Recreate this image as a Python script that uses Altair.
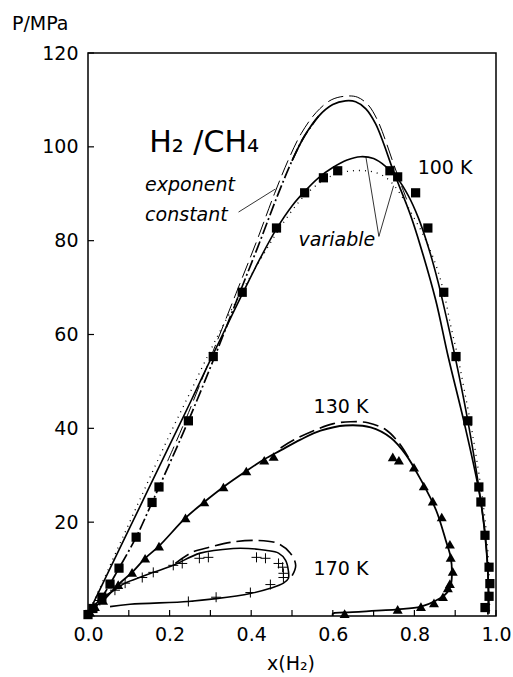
import altair as alt
import pandas as pd

FONT = "DejaVu Sans"

# ---------------- experimental points ----------------
# 100 K (squares)
sq_liq_x = [0.0, 0.012, 0.034, 0.054, 0.076, 0.118, 0.157, 0.174, 0.246, 0.307, 0.378, 0.462, 0.531, 0.577, 0.612]
sq_liq_p = [0.3, 1.6, 4.0, 6.8, 10.2, 16.8, 24.2, 27.5, 41.6, 55.3, 69.0, 82.7, 90.2, 93.4, 94.9]
sq_vap_x = [0.973, 0.983, 0.985, 0.983, 0.973, 0.963, 0.958, 0.931, 0.902, 0.872, 0.833, 0.803, 0.759, 0.740]
sq_vap_p = [1.8, 4.2, 6.9, 10.4, 17.2, 24.3, 27.5, 41.6, 55.3, 69.0, 82.7, 90.2, 93.6, 94.9]

# 130 K (triangles)
tr_liq_x = [0.005, 0.017, 0.037, 0.074, 0.108, 0.140, 0.174, 0.239, 0.285, 0.332, 0.388, 0.432, 0.455]
tr_liq_p = [0.8, 2.0, 3.3, 6.7, 9.3, 12.3, 14.9, 20.9, 24.3, 27.5, 30.9, 33.2, 34.0]
tr_vap_x = [0.629, 0.759, 0.816, 0.848, 0.870, 0.882, 0.887, 0.894, 0.889, 0.887, 0.867, 0.845, 0.823, 0.799, 0.762, 0.747]
tr_vap_p = [0.5, 1.4, 2.0, 2.8, 4.1, 6.0, 6.9, 9.5, 12.5, 15.3, 21.1, 24.5, 27.7, 31.7, 33.2, 33.9]

# 170 K (plus signs)
pl_x = [0.005, 0.029, 0.066, 0.091, 0.133, 0.160, 0.209, 0.231, 0.273, 0.295, 0.413, 0.435, 0.467, 0.477,
        0.479, 0.479, 0.447, 0.398, 0.314, 0.246]
pl_p = [1.2, 3.3, 5.5, 7.0, 8.2, 9.3, 10.8, 11.2, 12.3, 12.5, 12.5, 12.3, 11.2, 10.4,
        9.1, 8.2, 6.7, 5.0, 4.0, 3.1]

# ---------------- model curves ----------------
# 100 K, exponent variable (solid)
v100_x = [0.0, 0.05, 0.10, 0.15, 0.20, 0.25, 0.30, 0.34, 0.378, 0.42, 0.462, 0.50, 0.531, 0.565, 0.60, 0.635,
          0.668, 0.70, 0.73, 0.759, 0.785, 0.81, 0.835, 0.858, 0.878, 0.894, 0.91, 0.931, 0.948, 0.963,
          0.973, 0.979, 0.982, 0.983]
v100_p = [0.4, 9.4, 18.4, 27.4, 36.4, 45.4, 54.6, 61.8, 68.6, 75.9, 82.5, 87.4, 90.5, 93.4, 95.6, 97.2,
          97.9, 97.5, 95.8, 93.2, 89.6, 84.8, 78.4, 71.2, 63.8, 57.6, 51.0, 41.6, 33.0, 24.3,
          17.2, 11.0, 5.5, 0.5]
# 100 K, exponent variable (dotted)
d100_x = [0.0, 0.05, 0.10, 0.15, 0.20, 0.25, 0.30, 0.34, 0.378, 0.42, 0.462, 0.50, 0.531, 0.577, 0.612,
          0.65, 0.69, 0.72, 0.745, 0.768, 0.795, 0.823, 0.852, 0.872, 0.890, 0.907, 0.922, 0.940, 0.956,
          0.968, 0.977, 0.982, 0.984, 0.984]
d100_p = [0.4, 10.0, 19.6, 29.2, 38.6, 47.6, 56.6, 63.4, 69.3, 75.6, 81.6, 86.4, 89.6, 92.9, 94.3,
          94.9, 94.8, 94.0, 92.3, 89.6, 85.5, 81.0, 75.0, 69.0, 61.5, 55.0, 48.3, 40.0, 31.5,
          24.3, 17.2, 11.0, 5.5, 0.5]
# 100 K, exponent constant (dash-dot part, left branch)
c100_x = [0.0, 0.034, 0.076, 0.118, 0.157, 0.20, 0.246, 0.307, 0.37, 0.42, 0.464, 0.50, 0.53, 0.565]
c100_p = [0.3, 4.0, 10.2, 16.8, 24.2, 32.5, 41.6, 54.5, 68.5, 79.5, 89.5, 97.0, 102.2, 106.5]
# 100 K, exponent constant (solid part, top and right branch)
k100_x = [0.50, 0.53, 0.565, 0.60, 0.631, 0.656, 0.681, 0.705, 0.725, 0.742, 0.759, 0.775, 0.791, 0.814,
          0.852, 0.883, 0.921, 0.953, 0.966, 0.975, 0.980, 0.981, 0.980]
k100_p = [97.0, 102.2, 106.5, 109.0, 109.8, 109.6, 108.1, 104.9, 100.6, 96.4, 92.5, 89.0, 85.3, 79.1,
          67.4, 55.2, 41.6, 29.0, 22.6, 16.1, 9.7, 3.3, 0.3]
# 100 K, exponent constant (long dash companion)
e100_x = [0.195, 0.240, 0.300, 0.363, 0.413, 0.457, 0.493, 0.523, 0.559, 0.596, 0.631, 0.660, 0.687,
          0.711, 0.731, 0.748, 0.765, 0.781]
e100_p = [33.0, 42.0, 55.0, 68.8, 79.8, 90.0, 97.6, 102.9, 107.3, 110.0, 110.8, 110.6, 108.9,
          105.4, 100.9, 96.6, 92.5, 88.8]
# 130 K (solid)
s130_x = [0.0, 0.017, 0.037, 0.074, 0.108, 0.140, 0.174, 0.239, 0.285, 0.332, 0.388, 0.432, 0.472, 0.521,
          0.570, 0.631, 0.693, 0.742, 0.779, 0.816, 0.853, 0.877, 0.889, 0.892, 0.889, 0.880, 0.853,
          0.816, 0.759, 0.629, 0.600, 0.600]
s130_p = [0.7, 2.0, 3.3, 6.7, 9.3, 12.3, 14.9, 20.9, 24.3, 27.5, 30.9, 33.4, 35.3, 37.6,
          39.5, 40.6, 40.2, 38.0, 34.4, 29.0, 22.6, 16.1, 12.5, 9.0, 6.5, 5.0, 3.3,
          2.0, 1.4, 0.75, 0.5, 0.0]
# 130 K (long dash)
l130_x = [0.472, 0.504, 0.553, 0.602, 0.644, 0.686, 0.730, 0.762, 0.786]
l130_p = [35.8, 37.5, 39.5, 41.0, 41.4, 41.2, 39.7, 36.9, 33.7]
# 170 K (solid)
s170_x = [0.0, 0.029, 0.066, 0.091, 0.133, 0.160, 0.209, 0.275, 0.356, 0.393, 0.435, 0.467, 0.484, 0.491,
          0.491, 0.479, 0.447, 0.398, 0.314, 0.246, 0.103, 0.054]
s170_p = [0.75, 3.4, 5.6, 7.0, 8.4, 9.3, 10.8, 13.4, 14.4, 14.4, 14.0, 13.4, 11.9, 9.7,
          8.0, 7.0, 5.9, 4.8, 3.7, 3.1, 2.5, 2.0]
# 170 K (long dash)
l170_x = [0.214, 0.256, 0.300, 0.349, 0.415, 0.464, 0.496, 0.509, 0.501, 0.491]
l170_p = [11.2, 13.6, 14.7, 15.7, 16.1, 15.5, 13.4, 10.8, 8.7, 7.6]

x_ticks = [0.0, 0.1, 0.2, 0.3, 0.4, 0.5, 0.6, 0.7, 0.8, 0.9, 1.0]
x_labels = [0.0, 0.2, 0.4, 0.6, 0.8, 1.0]
y_labels = [20, 40, 60, 80, 100, 120]

# ---------------- chart ----------------
xscale = alt.Scale(domain=[0, 1], nice=False, zero=False)
yscale = alt.Scale(domain=[0, 120], nice=False, zero=False)
xaxis = alt.Axis(values=x_labels, format=".1f", title=None, ticks=False, domain=False, grid=False,
                 labelFlush=False, labelFont=FONT, labelFontSize=19, labelPadding=9, labelColor="black")
yaxis = alt.Axis(values=y_labels, format="d", title=None, ticks=False, domain=False, grid=False,
                 labelFlush=False, labelFont=FONT, labelFontSize=19, labelPadding=10, labelColor="black")


def X(field):
    return alt.X(field, type="quantitative", scale=xscale, axis=xaxis)


def Y(field):
    return alt.Y(field, type="quantitative", scale=yscale, axis=yaxis)


def curve(xs, ps):
    return pd.DataFrame({"i": list(range(len(xs))), "x": xs, "P": ps})


def line(xs, ps, dash=None, width=1.6):
    kw = dict(color="black", strokeWidth=width, interpolate="catmull-rom", clip=True)
    if dash:
        kw["strokeDash"] = dash
    return alt.Chart(curve(xs, ps)).mark_line(**kw).encode(x=X("x"), y=Y("P"), order="i:Q")


layers = [
    line(v100_x, v100_p, width=1.6),
    line(d100_x, d100_p, dash=[1, 5], width=1.3),
    line(c100_x, c100_p, dash=[12, 3, 2, 3], width=1.7),
    line(k100_x, k100_p, width=1.7),
    line(e100_x, e100_p, dash=[16, 6], width=1.0),
    line(s130_x, s130_p, width=1.8),
    line(l130_x, l130_p, dash=[16, 6], width=1.6),
    line(s170_x, s170_p, width=1.6),
    line(l170_x, l170_p, dash=[16, 6], width=1.6),
]

squares = pd.DataFrame({"x": sq_liq_x + sq_vap_x, "P": sq_liq_p + sq_vap_p})
triangles = pd.DataFrame({"x": tr_liq_x + tr_vap_x, "P": tr_liq_p + tr_vap_p})
pluses = pd.DataFrame({"x": pl_x, "P": pl_p})

layers.append(alt.Chart(squares).mark_point(shape="square", filled=True, color="black", size=85, opacity=1)
              .encode(x=X("x"), y=Y("P")))
layers.append(alt.Chart(triangles).mark_point(shape="triangle-up", filled=True, color="black", size=100, opacity=1)
              .encode(x=X("x"), y=Y("P")))
layers.append(alt.Chart(pluses).mark_point(shape="M-1,0H1M0,-1V1", filled=False, color="black", size=100,
                                           strokeWidth=1, opacity=1)
              .encode(x=X("x"), y=Y("P")))

# inward ticks
layers.append(alt.Chart(pd.DataFrame({"t": x_ticks})).mark_rule(color="black", strokeWidth=1.2)
              .encode(x=X("t"), y=alt.value(563), y2=alt.value(557)))
layers.append(alt.Chart(pd.DataFrame({"t": y_labels})).mark_rule(color="black", strokeWidth=1.2)
              .encode(y=Y("t"), x=alt.value(0), x2=alt.value(6)))

# leader lines
leaders = pd.DataFrame({"x": [0.369, 0.713, 0.713], "P": [86.1, 80.9, 80.9],
                        "x2": [0.459, 0.681, 0.749], "P2": [91.0, 97.9, 91.7]})
layers.append(alt.Chart(leaders).mark_rule(color="black", strokeWidth=0.8)
              .encode(x=X("x"), y=Y("P"), x2="x2", y2="P2"))


def label(text, x, p, size=19, italic=False):
    kw = dict(text=text, font=FONT, fontSize=size, align="left", baseline="alphabetic", color="black")
    if italic:
        kw["fontStyle"] = "italic"
    return alt.Chart().mark_text(**kw).encode(x=alt.X(datum=x, type="quantitative", scale=xscale, axis=xaxis),
                                              y=alt.Y(datum=p, type="quantitative", scale=yscale, axis=yaxis))


layers += [
    label("H\u2082 /CH\u2084", 0.150, 99.0, size=30),
    label("100  K", 0.808, 94.3),
    label("130  K", 0.553, 43.3),
    label("170  K", 0.553, 8.7),
    label("exponent", 0.140, 90.6, italic=True),
    label("constant", 0.140, 84.2, italic=True),
    label("variable", 0.516, 78.9, italic=True),
]

layers.append(alt.Chart().mark_text(text="P/MPa", font=FONT, fontSize=19, align="left", baseline="alphabetic",
                                    color="black").encode(x=alt.value(-76), y=alt.value(-23)))
layers.append(alt.Chart().mark_text(text="x(H\u2082)", font=FONT, fontSize=19, align="center",
                                    baseline="alphabetic", color="black").encode(x=alt.value(203), y=alt.value(617)))

chart = alt.layer(*layers).properties(
    width=408, height=563,
    padding={"left": 88, "top": 53, "right": 17, "bottom": 61},
    autosize="none",
).configure_view(stroke="black", strokeWidth=1.5)

chart.save("out.html", embed_options={"renderer": "svg", "actions": False})
